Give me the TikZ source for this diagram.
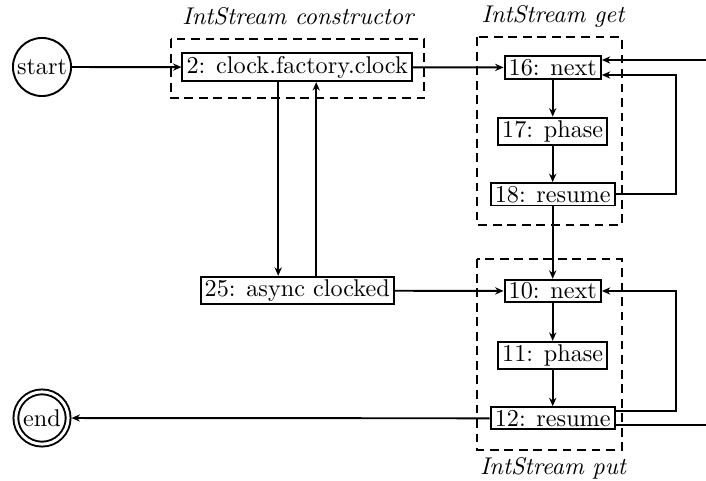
\documentclass[tikz,border=0pt]{standalone}
\usetikzlibrary{arrows.meta}
\begin{document}
\begin{tikzpicture}[x=0.4132pt,y=-0.4132pt, line width=0.8pt,
  stmt/.style={draw, rectangle, inner xsep=1.7pt, inner ysep=1.2pt},
  startst/.style={draw, circle, inner sep=0pt, minimum size=24pt},
  endst/.style={draw, circle, double, double distance=1.2pt, inner sep=0pt, minimum size=21.6pt, outer sep=1.4pt},
  arr/.style={-{Stealth[length=3.5pt,width=3pt]}},
  grp/.style={draw, dash pattern=on 3.6pt off 2.4pt},
  ttl/.style={font=\itshape, anchor=base, inner sep=0pt}]
\useasboundingbox (0,0) rectangle (706,481);
\clip (0,0) rectangle (706,481);

% group frames
\draw[grp] (170.7,39.3) rectangle (424,98.3);
\draw[grp] (477.3,37.3) rectangle (621.7,225);
\draw[grp] (477.3,259.3) rectangle (621.7,450);

% titles
\node[ttl] (tcons) at (298,25) {IntStream constructor};
\node[ttl] (tget) at (553,22.5) {IntStream get};
\node[ttl] (tput) at (553,474.5) {IntStream put};

% nodes
\node[startst] (start) at (42,67) {\makebox[0pt]{start}};
\node[endst] (end) at (42,418) {\makebox[0pt]{end}};
\node[stmt] (n2) at (297.2,67.2) {2: clock.factory.clock};
\node[stmt] (n25) at (297.2,290.6) {25: async clocked};
\node[stmt] (n16) at (552.7,67.5) {16: next};
\node[stmt] (n17) at (552.7,131.2) {17: phase};
\node[stmt] (n18) at (552.7,194.3) {18: resume};
\node[stmt] (n10) at (552.7,291) {10: next};
\node[stmt] (n11) at (552.7,355.5) {11: phase};
\node[stmt] (n12) at (552.7,418.3) {12: resume};

\coordinate (xr) at (676,0);
\coordinate (xo) at (740,0);
\coordinate (n16lo) at ([yshift=-3.1pt]n16.east);
\coordinate (n16hi) at ([yshift=3.1pt]n16.east);
\coordinate (n12hi) at ([yshift=3pt]n12.east);
\coordinate (n12lo) at ([yshift=-2.8pt]n12.east);

% connectors
\draw[arr] (start) -- (n2);
\draw[arr] (n2) -- (n16);
\draw[arr] ([xshift=-7.85pt]n2.south) -- ([xshift=-7.85pt]n25.north);
\draw[arr] ([xshift=7.85pt]n25.north) -- ([xshift=7.85pt]n2.south);
\draw[arr] (n25) -- (n10);
\draw[arr] (n16) -- (n17);
\draw[arr] (n17) -- (n18);
\draw[arr] (n18) -- (n10);
\draw[arr] (n10) -- (n11);
\draw[arr] (n11) -- (n12);
\draw[arr] (n18.east) -| (xr |- n16lo) -- (n16lo);
\draw[arr] (n12hi) -| (xr |- n10.east) -- (n10.east);
\draw[arr] (n12lo) -| (xo |- n16hi) -- (n16hi);
\draw[arr] (n12.west) -- (end);
\end{tikzpicture}
\end{document}
